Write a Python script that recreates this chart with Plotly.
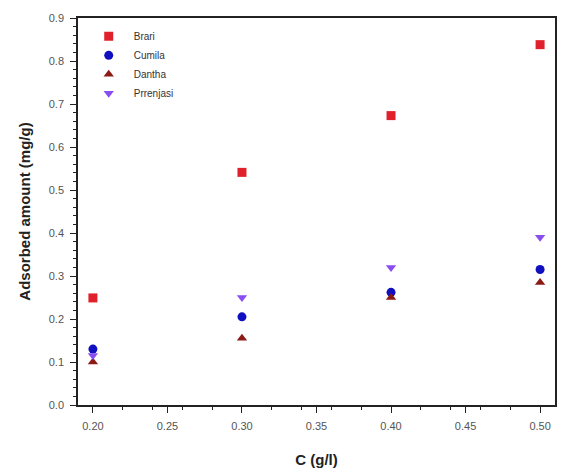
import plotly.graph_objects as go

conc = [0.20, 0.30, 0.40, 0.50]
brari = [0.249, 0.541, 0.673, 0.838]
cumila = [0.130, 0.205, 0.262, 0.315]
dantha = [0.100, 0.155, 0.250, 0.285]
prrenjasi = [0.115, 0.250, 0.320, 0.390]

series = [
    ("Brari", brari, "square", "#e0202a"),
    ("Cumila", cumila, "circle", "#1010c0"),
    ("Dantha", dantha, "triangle-up", "#8b1a14"),
    ("Prrenjasi", prrenjasi, "triangle-down", "#8a4df0"),
]

fig = go.Figure()
for name, vals, sym, col in series:
    fig.add_trace(go.Scatter(
        x=conc, y=vals, mode="markers", name=name,
        marker=dict(symbol=sym, size=9, color=col, line=dict(width=0)),
    ))

axis_common = dict(
    showline=True, linecolor="#222", linewidth=1.5, mirror=True,
    ticks="outside", ticklen=6, tickcolor="#222", showgrid=False, zeroline=False,
    tickfont=dict(family="Arial", size=11, color="#555"),
    ticklabelstandoff=4,
    minor=dict(ticks="outside", ticklen=3, tickcolor="#222"),
)

fig.update_layout(
    width=561, height=472,
    margin=dict(l=78, r=4, t=18, b=67),
    paper_bgcolor="white", plot_bgcolor="white",
    font=dict(family="Arial"),
    xaxis=dict(range=[0.19, 0.51], tickvals=[0.20, 0.25, 0.30, 0.35, 0.40, 0.45, 0.50],
               ticktext=["0.20", "0.25", "0.30", "0.35", "0.40", "0.45", "0.50"],
               title=dict(text="<b>C (g/l)</b>", font=dict(size=15, color="#222"), standoff=24),
               **axis_common),
    yaxis=dict(range=[0, 0.9], dtick=0.1, tickformat=".1f",
               title=dict(text="<b>Adsorbed amount (mg/g)</b>", font=dict(size=15, color="#222"), standoff=15),
               **axis_common),
    legend=dict(x=0.012, y=0.99, xanchor="left", yanchor="top",
                font=dict(size=10, color="#333"), bgcolor="rgba(0,0,0,0)",
                itemwidth=40, tracegroupgap=0),
    showlegend=True,
)

fig.write_html("out.html")
